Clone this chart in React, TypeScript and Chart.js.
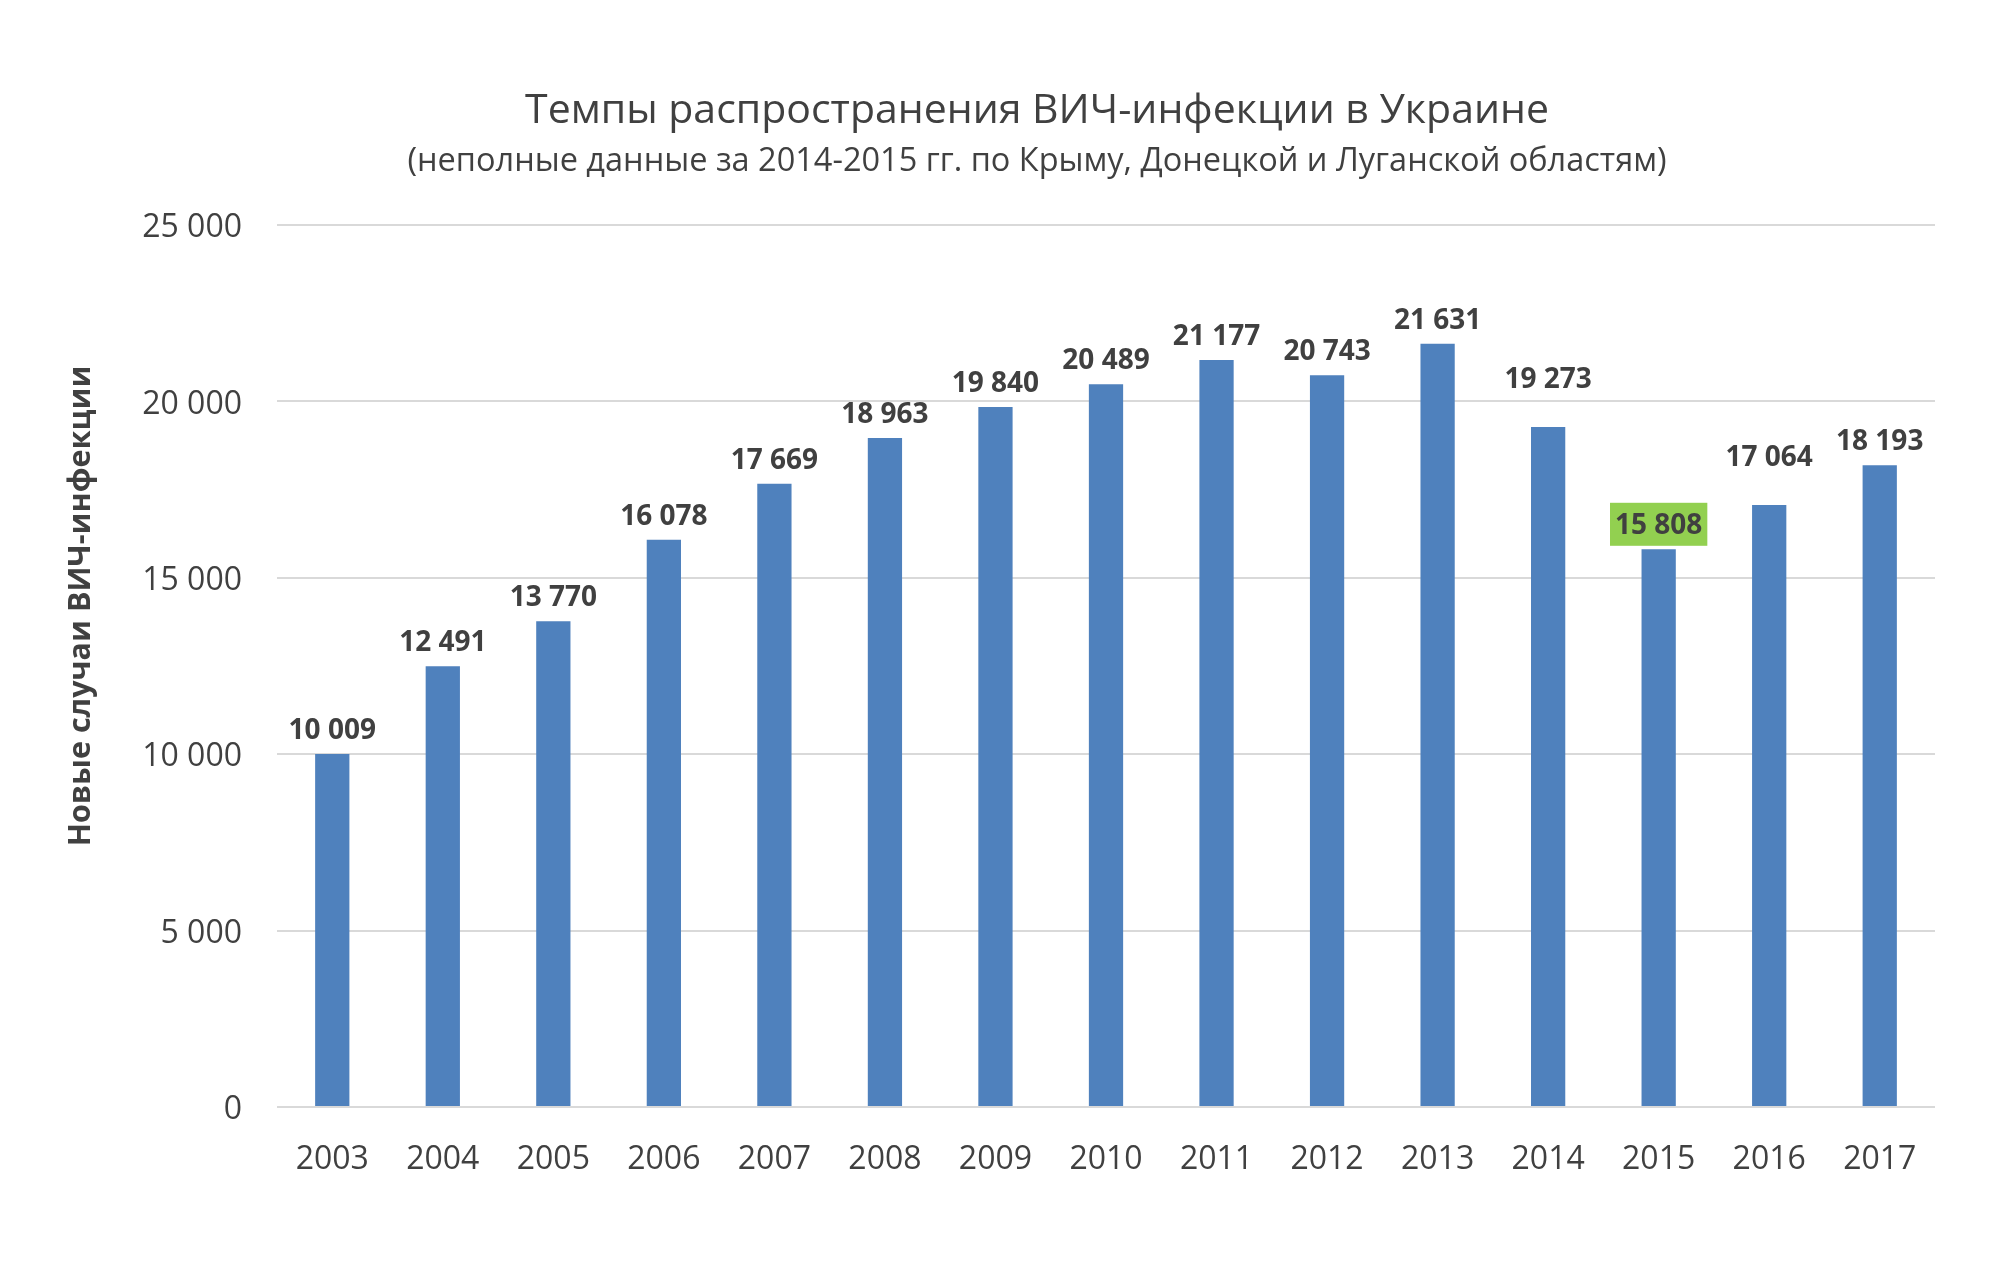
import React, { useEffect, useRef } from "react";
import { Chart, registerables } from "chart.js";

Chart.register(...registerables);

const TITLE = "Темпы распространения ВИЧ-инфекции в Украине";
const SUBTITLE = "(неполные данные за 2014-2015 гг. по Крыму, Донецкой и Луганской областям)";
const Y_TITLE = "Новые случаи ВИЧ-инфекции";

const years = ["2003", "2004", "2005", "2006", "2007", "2008", "2009", "2010", "2011", "2012", "2013", "2014", "2015", "2016", "2017"];
const newCases = [10009, 12491, 13770, 16078, 17669, 18963, 19840, 20489, 21177, 20743, 21631, 19273, 15808, 17064, 18193];
const highlightYear = "2015";
// years whose data label was moved further up in the original
const liftedLabelYears = ["2014", "2016"];
const yMax = 25000;
const yStep = 5000;

const BAR_COLOR = "#4F81BD";
const HIGHLIGHT_COLOR = "#92D050";
const TEXT_COLOR = "#404040";
const FONT = "'Open Sans', 'Noto Sans', sans-serif";

const fmt = (v: number) => String(v).replace(/\B(?=(\d{3})+(?!\d))/g, " ");

const overlay = {
  id: "overlay",
  afterDatasetsDraw(chart: any) {
    const ctx = chart.ctx as CanvasRenderingContext2D;
    const meta = chart.getDatasetMeta(0);
    ctx.save();
    ctx.font = `bold 28px ${FONT}`;
    ctx.textAlign = "center";
    ctx.textBaseline = "middle";
    meta.data.forEach((bar: any, i: number) => {
      const txt = fmt(newCases[i]);
      const lift = liftedLabelYears.includes(years[i]) ? 24 : 0;
      const cy = bar.y - 25 - lift;
      if (years[i] === highlightYear) {
        const w = ctx.measureText(txt).width + 10;
        ctx.fillStyle = HIGHLIGHT_COLOR;
        ctx.fillRect(bar.x - w / 2, cy - 21.5, w, 43);
      }
      ctx.fillStyle = TEXT_COLOR;
      ctx.fillText(txt, bar.x, cy + 2);
    });

    // titles
    ctx.fillStyle = TEXT_COLOR;
    ctx.font = `41px ${FONT}`;
    ctx.fillText(TITLE, 1037, 111);
    ctx.font = `32.5px ${FONT}`;
    ctx.fillText(SUBTITLE, 1037, 162);

    // y axis title
    ctx.save();
    ctx.translate(81, 606);
    ctx.rotate(-Math.PI / 2);
    ctx.font = `bold 30.5px ${FONT}`;
    ctx.fillText(Y_TITLE, 0, 0);
    ctx.restore();
    ctx.restore();
  },
};

export default function App() {
  const ref = useRef<HTMLCanvasElement | null>(null);
  useEffect(() => {
    document.body.style.margin = "0";
    const canvas = ref.current!;
    const chart = new Chart(canvas, {
      type: "bar",
      data: {
        labels: years,
        datasets: [
          {
            data: newCases,
            backgroundColor: BAR_COLOR,
            barPercentage: 0.31,
            categoryPercentage: 1,
          },
        ],
      },
      options: {
        animation: false,
        responsive: false,
        layout: { padding: { top: 225, right: 78, bottom: 55, left: 0 } },
        plugins: {
          legend: { display: false },
          tooltip: { enabled: false },
          title: { display: false },
        },
        scales: {
          x: {
            grid: { display: false, drawTicks: false },
            border: { display: false },
            ticks: { color: TEXT_COLOR, font: { family: FONT, size: 32 }, padding: 34, maxRotation: 0 },
            afterFit: (s: any) => {
              s.height = 100;
            },
          },
          y: {
            min: 0,
            max: yMax,
            grid: { color: "#d9d9d9", lineWidth: 2, drawTicks: false },
            border: { display: false },
            ticks: {
              stepSize: yStep,
              color: TEXT_COLOR,
              font: { family: FONT, size: 32 },
              padding: 35,
              labelOffset: 3,
              callback: (v: any) => fmt(Number(v)),
            },
            afterFit: (s: any) => {
              s.width = 277;
            },
          },
        },
      },
      plugins: [overlay],
    });
    return () => chart.destroy();
  }, []);
  return (
    <div style={{ position: "absolute", left: 0, top: 0 }}>
      <canvas ref={ref} width={2013} height={1262} style={{ display: "block", width: 2013, height: 1262 }} />
    </div>
  );
}
